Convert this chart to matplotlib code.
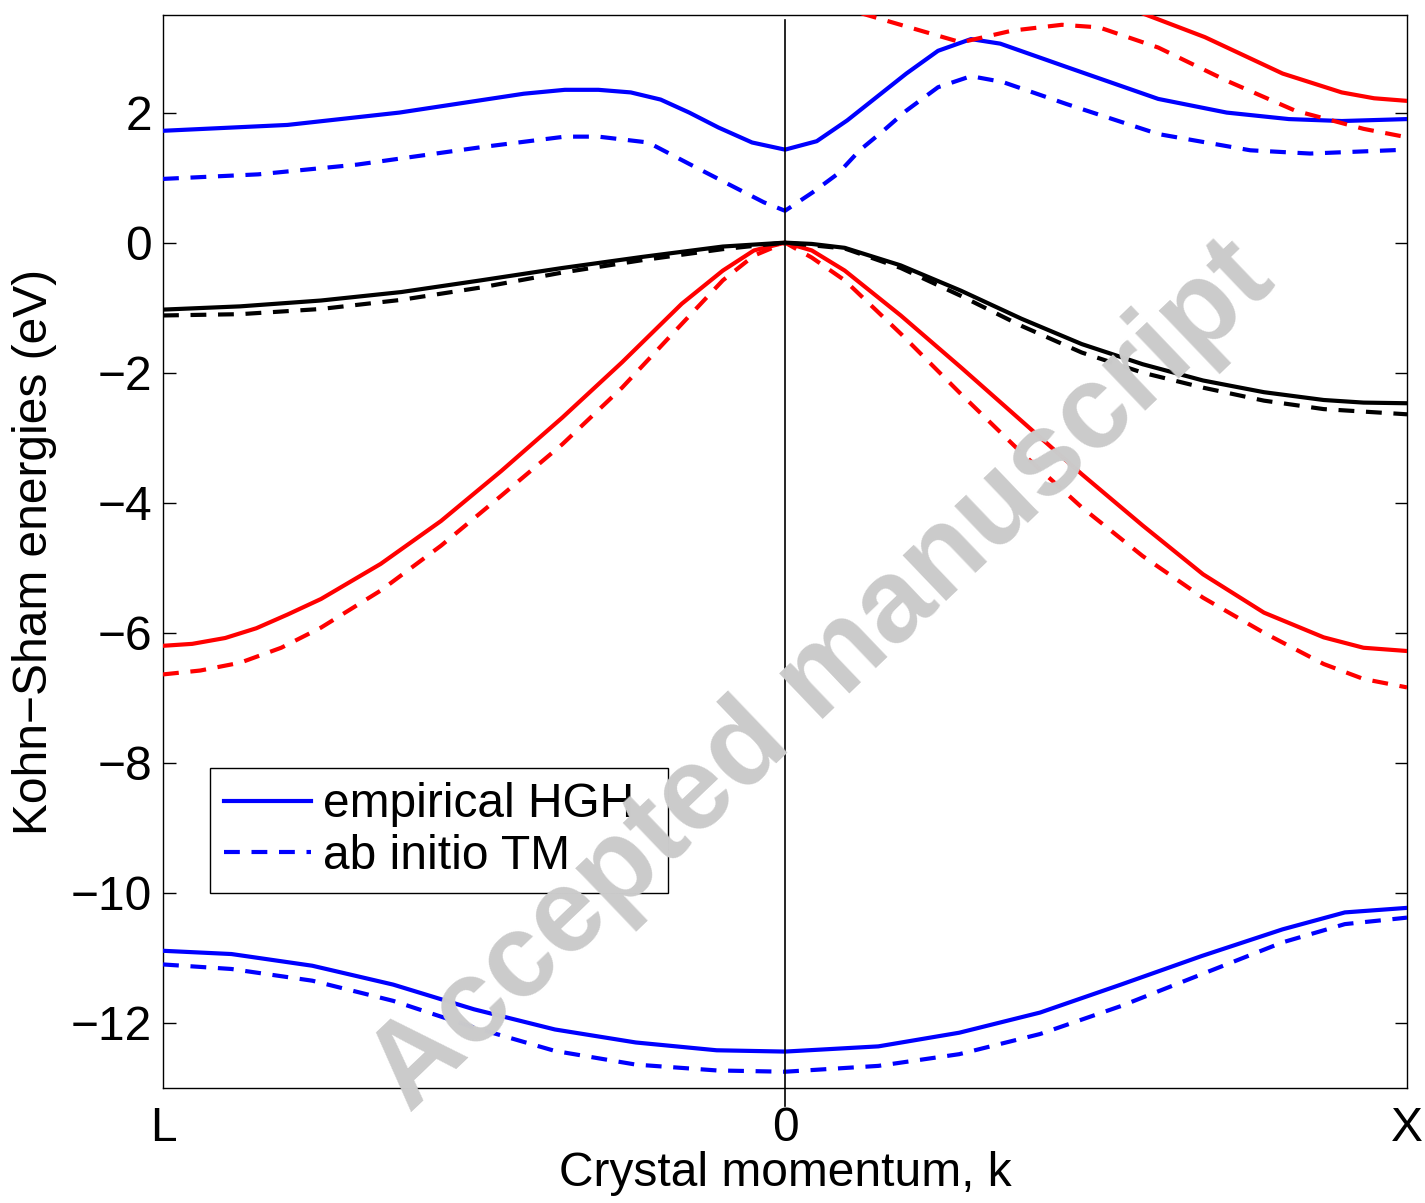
import numpy as np
import matplotlib
matplotlib.use("Agg")
import matplotlib.pyplot as plt

# ==============================================================================
# DATA (energies in eV)
# ==============================================================================
# upper conduction band (blue)
k_cb_hgh = [-1, -0.80, -0.62, -0.42, -0.354, -0.30, -0.248, -0.20, -0.154, -0.107, -0.053, 0,
            0.051, 0.10, 0.195, 0.246, 0.299, 0.346, 0.453, 0.60, 0.71, 0.81, 0.895, 1.0]
e_cb_hgh = [1.72, 1.81, 2.0, 2.29, 2.35, 2.35, 2.31, 2.20, 2.0, 1.77, 1.54, 1.43,
            1.56, 1.88, 2.6, 2.95, 3.13, 3.06, 2.70, 2.21, 2.0, 1.90, 1.87, 1.9]
k_cb_tm = [-1, -0.847, -0.688, -0.487, -0.354, -0.30, -0.22, -0.154, -0.087, -0.034, 0,
           0.044, 0.085, 0.12, 0.158, 0.195, 0.246, 0.299, 0.35, 0.453, 0.60, 0.748, 0.844, 1.0]
e_cb_tm = [0.98, 1.05, 1.20, 1.47, 1.63, 1.63, 1.54, 1.21, 0.88, 0.62, 0.49,
           0.77, 1.06, 1.42, 1.72, 2.03, 2.39, 2.56, 2.47, 2.13, 1.67, 1.42, 1.37, 1.43]

# higher bands (red), mostly above the window
k_hi_hgh = [0.5, 0.579, 0.675, 0.80, 0.895, 0.947, 1.0]
e_hi_hgh = [3.8, 3.51, 3.16, 2.6, 2.31, 2.22, 2.18]
k_hi_tm = [0.08, 0.132, 0.2, 0.283, 0.365, 0.445, 0.505, 0.60, 0.71, 0.82, 0.93, 1.0]
e_hi_tm = [3.65, 3.5, 3.31, 3.08, 3.26, 3.35, 3.31, 3.0, 2.49, 2.03, 1.75, 1.62]

# top valence band (black)
k_vb1_hgh = [-1, -0.876, -0.746, -0.617, -0.489, -0.358, -0.23, -0.10, 0,
             0.043, 0.096, 0.186, 0.283, 0.38, 0.477, 0.575, 0.672, 0.77, 0.866, 0.93, 1.0]
e_vb1_hgh = [-1.03, -0.98, -0.89, -0.76, -0.58, -0.39, -0.22, -0.06, 0,
             -0.02, -0.08, -0.35, -0.74, -1.17, -1.56, -1.87, -2.12, -2.30, -2.42, -2.46, -2.47]
k_vb1_tm = [-1, -0.876, -0.746, -0.617, -0.489, -0.358, -0.23, -0.10, 0,
            0.096, 0.186, 0.283, 0.38, 0.477, 0.575, 0.672, 0.77, 0.866, 1.0]
e_vb1_tm = [-1.12, -1.10, -1.02, -0.88, -0.69, -0.46, -0.27, -0.10, 0,
            -0.09, -0.39, -0.82, -1.28, -1.69, -2.0, -2.23, -2.43, -2.56, -2.64]

# second valence band (red)
k_vb2_hgh = [-1, -0.953, -0.90, -0.85, -0.80, -0.746, -0.65, -0.553, -0.456, -0.358, -0.262, -0.166,
             -0.10, -0.05, 0, 0.043, 0.096, 0.186, 0.283, 0.38, 0.477, 0.575, 0.672, 0.77, 0.866, 0.93, 1.0]
e_vb2_hgh = [-6.2, -6.17, -6.08, -5.93, -5.72, -5.48, -4.94, -4.28, -3.51, -2.69, -1.84, -0.94,
             -0.43, -0.12, 0, -0.12, -0.43, -1.12, -1.92, -2.74, -3.56, -4.35, -5.1, -5.69, -6.07, -6.23, -6.28]
k_vb2_tm = [-1, -0.94, -0.876, -0.81, -0.746, -0.65, -0.553, -0.456, -0.358, -0.262, -0.166,
            -0.10, -0.05, 0, 0.043, 0.096, 0.186, 0.283, 0.38, 0.477, 0.575, 0.672, 0.77, 0.866, 0.93, 1.0]
e_vb2_tm = [-6.64, -6.58, -6.46, -6.23, -5.92, -5.35, -4.66, -3.89, -3.10, -2.23, -1.25,
            -0.58, -0.2, 0, -0.23, -0.58, -1.4, -2.33, -3.23, -4.07, -4.82, -5.46, -6.0, -6.48, -6.71, -6.84]

# lowest valence band (blue)
k_vb3 = [-1, -0.89, -0.76, -0.63, -0.50, -0.37, -0.24, -0.11, 0, 0.15, 0.28, 0.41, 0.54, 0.67, 0.80, 0.90, 1.0]
e_vb3_hgh = [-10.89, -10.94, -11.12, -11.41, -11.79, -12.10, -12.30, -12.42, -12.44,
             -12.36, -12.15, -11.84, -11.41, -10.97, -10.56, -10.30, -10.23]
e_vb3_tm = [-11.1, -11.17, -11.35, -11.66, -12.07, -12.43, -12.64, -12.73, -12.75,
            -12.66, -12.48, -12.17, -11.74, -11.25, -10.76, -10.48, -10.38]

x_ticks = [-1, 0, 1]
x_ticklabels = ["L", "0", "X"]
y_ticks = [2, 0, -2, -4, -6, -8, -10, -12]

# ==============================================================================
# PLOT
# ==============================================================================
plt.rcParams["font.family"] = ["Liberation Sans", "DejaVu Sans"]
FS = 34.5
LW = 3.0
DASH = (3.8, 2.8)

fig = plt.figure(figsize=(14.25, 12.03), dpi=100)
ax = fig.add_axes([0.1144, 0.0956, 0.873, 0.8919])

def band(k, e, color, dashed=False, label=None):
    line, = ax.plot(k, e, color=color, lw=LW, zorder=7, label=label)
    if dashed:
        line.set_dashes(DASH)
    return line

h1 = band(k_cb_hgh, e_cb_hgh, "blue", label="empirical HGH")
h2 = band(k_cb_tm, e_cb_tm, "blue", dashed=True, label="ab initio TM")
band(k_hi_hgh, e_hi_hgh, "red")
band(k_hi_tm, e_hi_tm, "red", dashed=True)
band(k_vb2_hgh, e_vb2_hgh, "red")
band(k_vb2_tm, e_vb2_tm, "red", dashed=True)
band(k_vb1_tm, e_vb1_tm, "black", dashed=True)
band(k_vb1_hgh, e_vb1_hgh, "black")
band(k_vb3, e_vb3_hgh, "blue")
band(k_vb3, e_vb3_tm, "blue", dashed=True)

# Gamma point marker line, runs past the bottom of the box
ax.plot([0, 0], [3.42, -13.27], color="black", lw=1.2, zorder=8, clip_on=False)

ax.set_xlim(-1, 1)
ax.set_ylim(-13, 3.5)
ax.set_xticks(x_ticks)
ax.set_xticklabels(x_ticklabels)
ax.set_yticks(y_ticks)
ax.tick_params(axis="y", direction="in", right=True, length=9, width=1, labelsize=FS, pad=8)
ax.tick_params(axis="x", direction="in", top=False, length=0, labelsize=FS, pad=13)
for s in ax.spines.values():
    s.set_linewidth(1.0)

ax.set_xlabel("Crystal momentum, k", fontsize=FS, labelpad=0)
ax.set_ylabel("Kohn\u2212Sham energies (eV)", fontsize=FS, labelpad=10)

# legend box stretched to the same width as in the original
leg = ax.legend(handles=[h1, h2], loc="upper left",
                bbox_to_anchor=(210 / 1425, 1 - 768 / 1203, 458 / 1425, 0),
                bbox_transform=fig.transFigure, mode="expand", fontsize=FS, frameon=True,
                fancybox=False, edgecolor="black", framealpha=1, handlelength=1.8,
                handletextpad=0.25, labelspacing=0.14, borderpad=0.3, borderaxespad=0)
leg.get_frame().set_linewidth(1.0)
leg.set_zorder(5)

# watermark
fig.text(0.577, 0.437, "Accepted manuscript", fontsize=85, fontweight="bold",
         color="#cbcbcb", rotation=43.7, ha="center", va="center", zorder=6)

fig.savefig("out.png", dpi=100)
